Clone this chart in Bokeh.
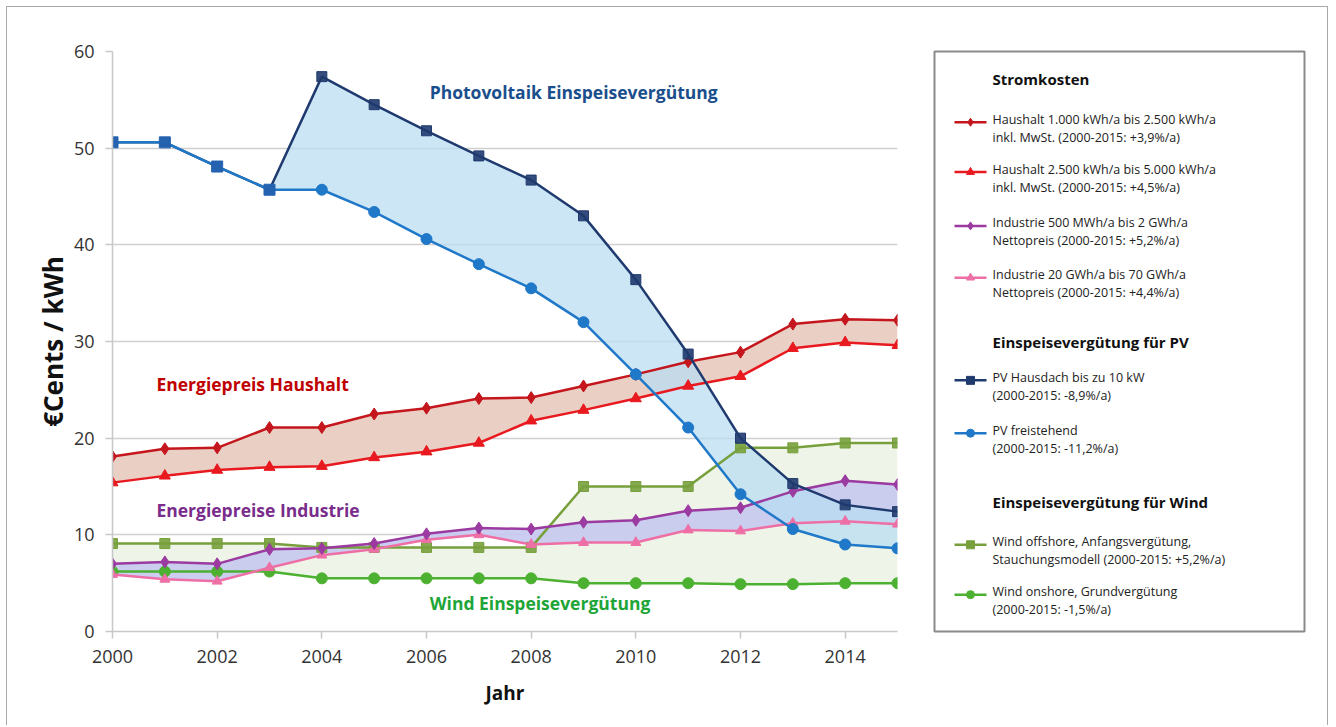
from bokeh.plotting import figure
from bokeh.models import Range1d, Label, FixedTicker
from bokeh.layouts import row
from bokeh.core.properties import value
from bokeh.embed import file_html
from bokeh.resources import INLINE

FONT = "Open Sans"

years = list(range(2000, 2016))

pv_hausdach = [50.6, 50.6, 48.1, 45.7, 57.4, 54.5, 51.8, 49.2, 46.7, 43.0, 36.4, 28.7, 20.0, 15.3, 13.1, 12.4]
pv_frei = [50.6, 50.6, 48.1, 45.7, 45.7, 43.4, 40.6, 38.0, 35.5, 32.0, 26.6, 21.1, 14.2, 10.6, 9.0, 8.6]
hh_small = [18.1, 18.9, 19.0, 21.1, 21.1, 22.5, 23.1, 24.1, 24.2, 25.4, 26.6, 27.9, 28.9, 31.8, 32.3, 32.2]
hh_large = [15.4, 16.1, 16.7, 17.0, 17.1, 18.0, 18.6, 19.5, 21.8, 22.9, 24.1, 25.4, 26.4, 29.3, 29.9, 29.6]
ind_500 = [7.0, 7.2, 7.0, 8.5, 8.6, 9.1, 10.1, 10.7, 10.6, 11.3, 11.5, 12.5, 12.8, 14.5, 15.6, 15.2]
ind_20 = [5.9, 5.4, 5.2, 6.6, 7.9, 8.5, 9.5, 10.0, 9.0, 9.2, 9.2, 10.5, 10.4, 11.2, 11.4, 11.1]
wind_off = [9.1, 9.1, 9.1, 9.1, 8.7, 8.7, 8.7, 8.7, 8.7, 15.0, 15.0, 15.0, 19.0, 19.0, 19.5, 19.5]
wind_on = [6.2, 6.2, 6.2, 6.2, 5.5, 5.5, 5.5, 5.5, 5.5, 5.0, 5.0, 5.0, 4.9, 4.9, 5.0, 5.0]

x_ticks = [2000, 2002, 2004, 2006, 2008, 2010, 2012, 2014]
y_ticks = [0, 10, 20, 30, 40, 50, 60]

C_HH1 = "#c4161c"
C_HH2 = "#e8191f"
C_IND1 = "#9b3aa0"
C_IND2 = "#ee6fa6"
C_PVH = "#1f3a6e"
C_PVF = "#1f78c8"
C_PVSQ = "#2462b0"
C_WOFF = "#77a03c"
C_WON = "#4cb030"

H = 718
p = figure(width=920, height=H, x_range=Range1d(2000, 2015), y_range=Range1d(0, 60),
           output_backend="svg", toolbar_location=None,
           min_border_left=105, min_border_right=30, min_border_top=44, min_border_bottom=H - 44 - 580)
p.outline_line_color = None
p.background_fill_color = "white"
p.border_fill_color = "white"

p.xgrid.grid_line_color = None
p.ygrid.grid_line_color = "#d0d0d0"
p.ygrid.grid_line_width = 1.5
p.xaxis.ticker = FixedTicker(ticks=x_ticks)
p.yaxis.ticker = FixedTicker(ticks=y_ticks)
for ax in (p.xaxis, p.yaxis):
    ax.axis_line_color = "#c8c8c8"
    ax.axis_line_width = 1.5
    ax.major_tick_line_color = "#c8c8c8"
    ax.major_tick_line_width = 1.5
    ax.major_tick_in = 0
    ax.major_tick_out = 7
    ax.minor_tick_line_color = None
    ax.major_label_text_font = FONT
    ax.major_label_text_font_size = "18px"
    ax.major_label_text_color = "#333333"
    ax.axis_label_text_font = FONT
    ax.axis_label_text_font_style = "bold"
    ax.axis_label_text_color = "#111111"
p.xaxis.axis_label = "Jahr"
p.xaxis.axis_label_text_font_size = "19px"
p.xaxis.axis_label_standoff = 14
p.xaxis.major_label_standoff = 11
p.yaxis.axis_label = "€Cents / kWh"
p.yaxis.axis_label_text_font_size = "26px"
p.yaxis.axis_label_standoff = 0
p.yaxis.major_label_standoff = 11

# bands
p.varea(x=years, y1=wind_on, y2=wind_off, fill_color="#eef5e8", fill_alpha=1.0)
p.varea(x=years, y1=ind_20, y2=ind_500, fill_color="#c5c9ee", fill_alpha=0.9)
p.varea(x=years, y1=hh_large, y2=hh_small, fill_color="#e9cfc4", fill_alpha=1.0)
p.varea(x=years, y1=pv_frei, y2=pv_hausdach, fill_color="#b9ddf3", fill_alpha=0.72)

LW = 2.5
MS = 10
# wind
p.line(years, wind_off, line_color=C_WOFF, line_width=LW)
p.scatter(years, wind_off, marker="square", size=MS, fill_color=C_WOFF, line_color=C_WOFF, fill_alpha=0.9)
p.line(years, wind_on, line_color=C_WON, line_width=LW)
p.scatter(years, wind_on, marker="circle", size=MS + 1, fill_color=C_WON, line_color=C_WON)
# industrie
p.line(years, ind_20, line_color=C_IND2, line_width=LW)
p.scatter(years, ind_20, marker="triangle", size=MS, fill_color=C_IND2, line_color=C_IND2)
p.line(years, ind_500, line_color=C_IND1, line_width=LW)
p.scatter(years, ind_500, marker="diamond", size=MS + 2, fill_color=C_IND1, line_color=C_IND1)
# haushalt
p.line(years, hh_large, line_color=C_HH2, line_width=LW)
p.scatter(years, hh_large, marker="triangle", size=MS + 1, fill_color=C_HH2, line_color=C_HH2)
p.line(years, hh_small, line_color=C_HH1, line_width=LW)
p.scatter(years, hh_small, marker="diamond", size=MS + 2, fill_color=C_HH1, line_color=C_HH1)
# PV
p.line(years, pv_hausdach, line_color=C_PVH, line_width=LW)
p.line(years, pv_frei, line_color=C_PVF, line_width=LW)
p.scatter(years[4:], pv_hausdach[4:], marker="square", size=MS, fill_color=C_PVH, line_color=C_PVH, fill_alpha=0.9)
p.scatter(years[4:], pv_frei[4:], marker="circle", size=MS + 1, fill_color=C_PVF, line_color=C_PVF)
p.scatter(years[:4], pv_frei[:4], marker="square", size=MS + 1, fill_color=C_PVSQ, line_color=C_PVSQ)

# annotations
for txt, xx, yy, col in [
    ("Photovoltaik Einspeisevergütung", 2006.06, 55.8, "#1a4e8c"),
    ("Energiepreis Haushalt", 2000.84, 25.65, "#c00000"),
    ("Energiepreise Industrie", 2000.84, 12.6, "#7a2c8c"),
    ("Wind Einspeisevergütung", 2006.06, 3.0, "#1ea538"),
]:
    p.add_layout(Label(x=xx, y=yy, text=txt, text_color=col, text_font=FONT,
                       text_font_style="bold", text_font_size="17.5px", text_baseline="middle"))

# legend panel
lg = figure(width=400, height=H, x_range=Range1d(0, 370), y_range=Range1d(582, 0),
            output_backend="svg", toolbar_location=None,
            min_border_left=7, min_border_right=23, min_border_top=42, min_border_bottom=H - 42 - 582)
lg.xaxis.visible = False
lg.yaxis.visible = False
lg.grid.visible = False
lg.outline_line_color = "#8a8a8a"
lg.outline_line_width = 2
lg.border_fill_color = "white"

headings = ["Stromkosten", "Einspeisevergütung für PV", "Einspeisevergütung für Wind"]
heading_y = [28, 291, 452]
lg.text(x=[58] * 3, y=heading_y, text=headings, text_font=value(FONT), text_font_style="bold",
        text_font_size="15px", text_color="#111111", text_baseline="middle")

entries = [
    ("Haushalt 1.000 kWh/a bis 2.500 kWh/a", "inkl. MwSt. (2000-2015: +3,9%/a)", C_HH1, "diamond", 68),
    ("Haushalt 2.500 kWh/a bis 5.000 kWh/a", "inkl. MwSt. (2000-2015: +4,5%/a)", C_HH2, "triangle", 118),
    ("Industrie 500 MWh/a bis 2 GWh/a", "Nettopreis (2000-2015: +5,2%/a)", C_IND1, "diamond", 172),
    ("Industrie 20 GWh/a bis 70 GWh/a", "Nettopreis (2000-2015: +4,4%/a)", C_IND2, "triangle", 224),
    ("PV Hausdach bis zu 10 kW", "(2000-2015: -8,9%/a)", C_PVH, "square", 327),
    ("PV freistehend", "(2000-2015: -11,2%/a)", C_PVF, "circle", 380),
    ("Wind offshore, Anfangsvergütung,", "Stauchungsmodell (2000-2015: +5,2%/a)", C_WOFF, "square", 492),
    ("Wind onshore, Grundvergütung", "(2000-2015: -1,5%/a)", C_WON, "circle", 542),
]
for l1, l2, col, mk, yy in entries:
    lg.segment(x0=[20], y0=[yy + 3], x1=[52], y1=[yy + 3], line_color=col, line_width=2.5)
    lg.scatter(x=[36], y=[yy + 3], marker=mk, size=8, fill_color=col, line_color=col)
    lg.text(x=[58, 58], y=[yy, yy + 18], text=[l1, l2], text_font=value(FONT),
            text_font_size="12.5px", text_color="#222222", text_baseline="middle")

layout = row(p, lg, styles={"border-top": "1px solid #a8a8a8", "border-left": "1px solid #a8a8a8",
                            "border-right": "1px solid #a8a8a8", "background-color": "white",
                            "margin-left": "6px", "margin-top": "6px"})

open("out.html", "w").write(file_html(layout, INLINE))
